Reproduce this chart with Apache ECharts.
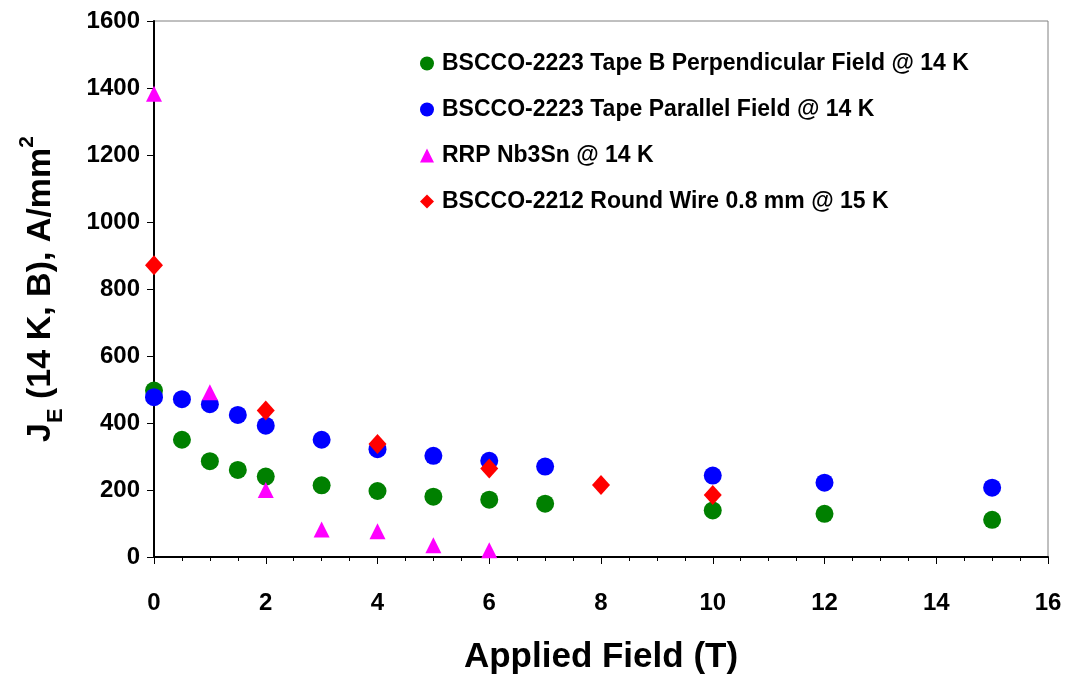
<!DOCTYPE html>
<html>
<head>
<meta charset="utf-8">
<script src="https://cdn.jsdelivr.net/npm/echarts@6/dist/echarts.min.js"></script>
<style>
  html, body { margin: 0; padding: 0; background: #fff; }
  #main { width: 1068px; height: 677px; }
</style>
</head>
<body>
<div id="main"></div>
<script>
// data
var perpX = [0, 0.5, 1, 1.5, 2, 3, 4, 5, 6, 7, 10, 12, 15];
var perpY = [497, 350, 286, 260, 240, 214, 197, 180, 171, 159, 139, 129, 111];
var paraX = [0, 0.5, 1, 1.5, 2, 3, 4, 5, 6, 7, 10, 12, 15];
var paraY = [477, 471, 456, 424, 392, 350, 322, 302, 287, 270, 243, 222, 207];
var rrpX = [0, 1, 2, 3, 4, 5, 6];
var rrpY = [1383, 492, 200, 82, 77, 35, 20];
var wireX = [0, 2, 4, 6, 8, 10];
var wireY = [871, 437, 337, 264, 215, 185];
var names = [
    'BSCCO-2223 Tape B Perpendicular Field @ 14 K',
    'BSCCO-2223 Tape Parallel Field @ 14 K',
    'RRP Nb3Sn @ 14 K',
    'BSCCO-2212 Round Wire 0.8 mm @ 15 K'
];

function pairs(xs, ys) {
    return xs.map(function (x, i) { return [x, ys[i]]; });
}

var font = 'Arial, "Liberation Sans", sans-serif';

var option = {
    animation: false,
    textStyle: { fontFamily: font },
    grid: {
        left: 154, right: 20, top: 21, bottom: 120,
        outerBoundsMode: 'none',
        show: true, borderColor: '#808080', borderWidth: 1
    },
    legend: {
        orient: 'vertical',
        left: 415, top: 47,
        itemGap: 23,
        itemWidth: 14, itemHeight: 14,
        textStyle: { fontSize: 23, fontWeight: 'bold', color: '#000', fontFamily: font, padding: [0, 0, 0, 3] },
        data: [
            { name: names[0], icon: 'circle' },
            { name: names[1], icon: 'circle' },
            { name: names[2], icon: 'triangle' },
            { name: names[3], icon: 'diamond' }
        ]
    },
    xAxis: {
        type: 'value',
        min: 0, max: 16, interval: 2,
        name: 'Applied Field (T)',
        nameLocation: 'middle',
        nameGap: 83,
        nameTextStyle: { fontSize: 35, fontWeight: 'bold', color: '#000', fontFamily: font },
        axisLine: { lineStyle: { color: '#000', width: 2 } },
        axisTick: { length: 7, lineStyle: { color: '#000' } },
        minorTick: { show: true, splitNumber: 4, length: 4, lineStyle: { color: '#000' } },
        splitLine: { show: false },
        axisLabel: { fontSize: 24, fontWeight: 'bold', color: '#000', margin: 34 }
    },
    yAxis: {
        type: 'value',
        min: 0, max: 1600, interval: 200,
        name: '{a|J}{b|E}{a| (14 K, B), A/mm}{c|2}',
        nameLocation: 'middle',
        nameGap: 91,
        nameTextStyle: {
            rich: {
                a: { fontSize: 34, fontWeight: 'bold', color: '#000', fontFamily: font, lineHeight: 44 },
                b: { fontSize: 22, fontWeight: 'bold', color: '#000', fontFamily: font, verticalAlign: 'bottom', lineHeight: 44, padding: [0, 0, -4, 0] },
                c: { fontSize: 21, fontWeight: 'bold', color: '#000', fontFamily: font, verticalAlign: 'top', lineHeight: 44, padding: [-2, 0, 0, 0] }
            }
        },
        axisLine: { show: true, lineStyle: { color: '#000', width: 2 } },
        axisTick: { show: true, length: 7, lineStyle: { color: '#000' } },
        splitLine: { show: false },
        axisLabel: {
            fontSize: 24, fontWeight: 'bold', color: '#000', margin: 14,
            formatter: function (v) { return String(v); }
        }
    },
    series: [
        {
            name: names[0], type: 'scatter', symbol: 'circle', symbolSize: 18,
            itemStyle: { color: '#008000', opacity: 1 }, data: pairs(perpX, perpY)
        },
        {
            name: names[1], type: 'scatter', symbol: 'circle', symbolSize: 18,
            itemStyle: { color: '#0000ff', opacity: 1 }, data: pairs(paraX, paraY)
        },
        {
            name: names[2], type: 'scatter', symbol: 'triangle', symbolSize: 16,
            itemStyle: { color: '#ff00ff', opacity: 1 }, data: pairs(rrpX, rrpY)
        },
        {
            name: names[3], type: 'scatter', symbol: 'diamond', symbolSize: [18, 20],
            itemStyle: { color: '#ff0000', opacity: 1 }, data: pairs(wireX, wireY)
        }
    ]
};

var myChart = echarts.init(document.getElementById('main'));
myChart.setOption(option);
</script>
</body>
</html>
